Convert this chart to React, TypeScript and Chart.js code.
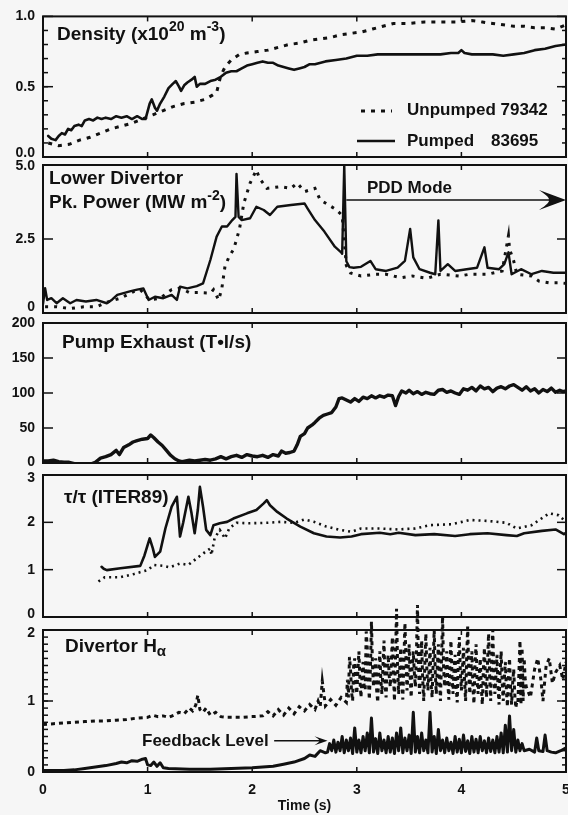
import React, { useEffect, useRef } from 'react';
import { Chart, registerables } from 'chart.js';

Chart.register(...registerables);

const W = 568;
const H = 815;
const FONT = "'Liberation Sans', Arial, Helvetica, sans-serif";
const INK = '#111111';
const BG = '#f6f6f6';

// ---------------- data (time s, value) ----------------
const xTicks = [0, 1, 2, 3, 4, 5];
const xTickLabels = ['0', '1', '2', '3', '4', '5'];

const densityTicks = [0, 0.5, 1.0];
const densityTickLabels = ['0.0', '0.5', '1.0'];
const densityPumped: [number, number][] = [
  [0.05, 0.15], [0.08, 0.13], [0.12, 0.12], [0.15, 0.15], [0.18, 0.17], [0.21, 0.16], [0.24, 0.2], [0.27, 0.19],
  [0.3, 0.22], [0.34, 0.23], [0.37, 0.22], [0.4, 0.26], [0.44, 0.27], [0.48, 0.26], [0.52, 0.28], [0.56, 0.27],
  [0.6, 0.28], [0.65, 0.27], [0.7, 0.29], [0.75, 0.28], [0.8, 0.29], [0.85, 0.27], [0.9, 0.29], [0.95, 0.27],
  [0.98, 0.27], [1.02, 0.38], [1.04, 0.41], [1.07, 0.35], [1.09, 0.33], [1.12, 0.38], [1.16, 0.43], [1.2, 0.49],
  [1.24, 0.52], [1.27, 0.54], [1.3, 0.5], [1.32, 0.47], [1.35, 0.51], [1.38, 0.53], [1.42, 0.55], [1.45, 0.57],
  [1.47, 0.5], [1.5, 0.52], [1.55, 0.52], [1.6, 0.54], [1.65, 0.55], [1.7, 0.57], [1.75, 0.6], [1.8, 0.61],
  [1.85, 0.61], [1.9, 0.63], [1.95, 0.65], [2.0, 0.66], [2.05, 0.67], [2.1, 0.68], [2.15, 0.67], [2.2, 0.67],
  [2.25, 0.65], [2.3, 0.64], [2.35, 0.63], [2.4, 0.62], [2.45, 0.63], [2.5, 0.64], [2.55, 0.66], [2.6, 0.66],
  [2.7, 0.68], [2.8, 0.69], [2.9, 0.7], [3.0, 0.72], [3.1, 0.72], [3.2, 0.73], [3.3, 0.73], [3.4, 0.73],
  [3.5, 0.73], [3.6, 0.73], [3.7, 0.73], [3.8, 0.73], [3.9, 0.74], [3.97, 0.74], [4.0, 0.76], [4.03, 0.74],
  [4.1, 0.73], [4.2, 0.73], [4.3, 0.73], [4.4, 0.72], [4.5, 0.73], [4.6, 0.74], [4.7, 0.76], [4.8, 0.77],
  [4.9, 0.79], [5.0, 0.8],
];
const densityUnpumped: [number, number][] = [
  [0.05, 0.1], [0.15, 0.08], [0.25, 0.09], [0.35, 0.12], [0.45, 0.14], [0.55, 0.17], [0.65, 0.2], [0.75, 0.22],
  [0.85, 0.24], [0.95, 0.27], [1.05, 0.3], [1.15, 0.33], [1.25, 0.36], [1.35, 0.38], [1.45, 0.39], [1.55, 0.41],
  [1.62, 0.44], [1.66, 0.46], [1.7, 0.58], [1.74, 0.64], [1.8, 0.69], [1.88, 0.73], [1.95, 0.74], [2.05, 0.75],
  [2.15, 0.76], [2.25, 0.78], [2.35, 0.8], [2.45, 0.81], [2.55, 0.83], [2.65, 0.84], [2.75, 0.85], [2.85, 0.87],
  [2.95, 0.88], [3.05, 0.89], [3.15, 0.91], [3.25, 0.93], [3.35, 0.95], [3.5, 0.95], [3.65, 0.96], [3.8, 0.96],
  [3.95, 0.96], [4.1, 0.97], [4.2, 0.96], [4.3, 0.95], [4.4, 0.94], [4.5, 0.93], [4.6, 0.93], [4.7, 0.92],
  [4.8, 0.92], [4.9, 0.91], [5.0, 0.94],
];

const powerTicks = [0, 2.5, 5.0];
const powerTickLabels = ['0', '2.5', '5.0'];
const powerPumped: [number, number][] = [
  [0, 0.3], [0.02, 0.84], [0.04, 0.44], [0.08, 0.5], [0.13, 0.33], [0.19, 0.5], [0.26, 0.33], [0.32, 0.44],
  [0.41, 0.39], [0.51, 0.44], [0.61, 0.33], [0.66, 0.45], [0.71, 0.61], [0.77, 0.67], [0.83, 0.73], [0.9, 0.79],
  [0.96, 0.83], [1.01, 0.44], [1.07, 0.55], [1.15, 0.5], [1.23, 0.61], [1.28, 0.44], [1.31, 0.89], [1.38, 0.83],
  [1.47, 0.91], [1.53, 1.0], [1.6, 1.79], [1.66, 2.58], [1.71, 2.92], [1.76, 2.92], [1.81, 3.14], [1.84, 3.25],
  [1.85, 4.7], [1.87, 3.25], [1.9, 3.14], [1.98, 3.2], [2.04, 3.59], [2.11, 3.48], [2.17, 3.31], [2.24, 3.59],
  [2.37, 3.65], [2.5, 3.7], [2.53, 3.53], [2.6, 3.14], [2.69, 2.75], [2.79, 2.24], [2.85, 2.05], [2.86, 2.0],
  [2.88, 5.0], [2.9, 1.75], [2.93, 1.55], [2.97, 1.53], [3.04, 1.56], [3.13, 1.76], [3.18, 1.48], [3.28, 1.42],
  [3.39, 1.53], [3.46, 1.76], [3.51, 2.84], [3.54, 1.88], [3.6, 1.48], [3.7, 1.36], [3.75, 1.31], [3.78, 3.13],
  [3.8, 1.42], [3.87, 1.65], [3.94, 1.42], [4.05, 1.48], [4.15, 1.53], [4.22, 2.22], [4.25, 1.53], [4.36, 1.48],
  [4.41, 1.65], [4.45, 2.05], [4.48, 1.31], [4.57, 1.48], [4.67, 1.31], [4.77, 1.42], [4.88, 1.36], [5.0, 1.36],
];
const powerUnpumped: [number, number][] = [
  [0.02, 0.21], [0.13, 0.21], [0.26, 0.15], [0.39, 0.21], [0.51, 0.21], [0.6, 0.35], [0.74, 0.5], [0.87, 0.73],
  [0.93, 0.79], [1.02, 0.44], [1.12, 0.5], [1.23, 0.79], [1.31, 0.84], [1.4, 0.69], [1.5, 0.69], [1.6, 0.67],
  [1.63, 0.79], [1.68, 0.44], [1.71, 0.84], [1.74, 1.58], [1.78, 1.91], [1.82, 2.14], [1.85, 2.47], [1.88, 2.87],
  [1.92, 3.71], [1.98, 4.39], [2.04, 4.83], [2.07, 4.55], [2.14, 4.21], [2.27, 4.27], [2.37, 4.21], [2.43, 4.39],
  [2.5, 4.1], [2.6, 4.21], [2.65, 3.82], [2.73, 3.65], [2.8, 3.5], [2.86, 3.3], [2.9, 1.6], [2.94, 1.35],
  [3.04, 1.25], [3.18, 1.31], [3.28, 1.31], [3.42, 1.19], [3.53, 1.25], [3.67, 1.17], [3.8, 1.31], [3.98, 1.25],
  [4.08, 1.31], [4.25, 1.31], [4.39, 1.42], [4.45, 2.61], [4.46, 2.16], [4.5, 1.76], [4.53, 1.31], [4.67, 1.25],
  [4.74, 1.08], [4.84, 1.02], [4.95, 1.02], [5.0, 1.0],
];

const pumpTicks = [0, 50, 100, 150, 200];
const pumpTickLabels = ['0', '50', '100', '150', '200'];
const pumpExhaust: [number, number][] = [
  [0, 3], [0.05, 3], [0.1, 4], [0.15, 2], [0.2, 1], [0.25, 1], [0.3, -1], [0.35, -2], [0.4, -1], [0.45, -2],
  [0.5, 1], [0.55, 7], [0.6, 9], [0.65, 12], [0.7, 18], [0.73, 12], [0.77, 22], [0.82, 26], [0.86, 30], [0.9, 32],
  [0.95, 34], [1.0, 35], [1.03, 40], [1.06, 36], [1.1, 30], [1.14, 25], [1.18, 18], [1.22, 11], [1.26, 6], [1.3, 3],
  [1.33, 2], [1.4, 4], [1.45, 3], [1.5, 4], [1.55, 5], [1.6, 4], [1.65, 6], [1.7, 9], [1.75, 6], [1.8, 9],
  [1.85, 11], [1.9, 8], [1.95, 12], [2.0, 10], [2.05, 9], [2.1, 11], [2.15, 8], [2.2, 12], [2.25, 10], [2.28, 17],
  [2.32, 14], [2.36, 15], [2.4, 17], [2.43, 26], [2.46, 38], [2.5, 42], [2.53, 50], [2.57, 54], [2.6, 58], [2.64, 64],
  [2.68, 68], [2.72, 70], [2.76, 72], [2.8, 80], [2.83, 92], [2.86, 93], [2.9, 90], [2.94, 87], [2.98, 92], [3.02, 88],
  [3.06, 94], [3.1, 92], [3.14, 96], [3.18, 93], [3.22, 96], [3.26, 94], [3.3, 97], [3.34, 96], [3.37, 82], [3.4, 95],
  [3.43, 103], [3.47, 100], [3.5, 104], [3.54, 99], [3.58, 102], [3.62, 98], [3.66, 101], [3.7, 99], [3.74, 98],
  [3.78, 104], [3.82, 105], [3.86, 101], [3.9, 103], [3.94, 100], [3.98, 98], [4.02, 106], [4.06, 104], [4.1, 108],
  [4.14, 103], [4.18, 110], [4.22, 106], [4.26, 108], [4.3, 102], [4.34, 107], [4.38, 109], [4.42, 106], [4.46, 110],
  [4.5, 112], [4.54, 108], [4.58, 104], [4.62, 109], [4.66, 103], [4.7, 106], [4.74, 100], [4.78, 105], [4.82, 102],
  [4.86, 107], [4.9, 101], [4.94, 104], [4.97, 102], [5.0, 103],
];

const tauTicks = [0, 1, 2, 3];
const tauTickLabels = ['0', '1', '2', '3'];
const tauPumped: [number, number][] = [
  [0.56, 1.06], [0.58, 1.02], [0.61, 0.99], [0.74, 1.03], [0.93, 1.08], [0.97, 1.3], [1.0, 1.52], [1.02, 1.66],
  [1.05, 1.45], [1.07, 1.27], [1.12, 1.38], [1.17, 1.87], [1.23, 2.33], [1.28, 2.54], [1.31, 1.7], [1.34, 1.99],
  [1.39, 2.54], [1.42, 2.19], [1.45, 1.77], [1.48, 2.26], [1.5, 2.75], [1.53, 2.33], [1.56, 1.84], [1.6, 1.73],
  [1.63, 1.94], [1.69, 1.98], [1.76, 2.01], [1.82, 2.08], [1.95, 2.19], [2.04, 2.26], [2.11, 2.4], [2.14, 2.47],
  [2.17, 2.36], [2.24, 2.22], [2.33, 2.08], [2.46, 1.91], [2.59, 1.77], [2.71, 1.7], [2.84, 1.68], [2.95, 1.7],
  [3.04, 1.75], [3.22, 1.78], [3.32, 1.75], [3.4, 1.78], [3.56, 1.73], [3.74, 1.75], [3.94, 1.71], [4.08, 1.75],
  [4.25, 1.77], [4.43, 1.73], [4.53, 1.71], [4.6, 1.77], [4.77, 1.82], [4.9, 1.85], [4.98, 1.75], [5.0, 1.78],
];
const tauUnpumped: [number, number][] = [
  [0.53, 0.75], [0.59, 0.84], [0.74, 0.84], [0.87, 0.91], [1.0, 0.99], [1.06, 1.1], [1.15, 1.08], [1.21, 1.05],
  [1.31, 1.13], [1.39, 1.1], [1.47, 1.24], [1.53, 1.34], [1.6, 1.45], [1.61, 1.31], [1.64, 1.66], [1.69, 1.84],
  [1.74, 1.66], [1.78, 1.87], [1.85, 1.99], [1.98, 1.98], [2.14, 1.99], [2.27, 2.01], [2.4, 1.99], [2.5, 2.06],
  [2.59, 2.01], [2.71, 1.91], [2.84, 1.84], [2.95, 1.8], [3.04, 1.87], [3.22, 1.87], [3.39, 1.85], [3.56, 1.87],
  [3.7, 1.94], [3.91, 1.96], [4.08, 2.05], [4.25, 2.03], [4.43, 1.99], [4.53, 1.87], [4.67, 1.94], [4.84, 2.19],
  [4.93, 2.15], [4.98, 2.05],
];

const haTicks = [0, 1, 2];
const haTickLabels = ['0', '1', '2'];
const haUnpumped: [number, number][] = [
  [0, 0.67], [0.1, 0.68], [0.2, 0.69], [0.3, 0.7], [0.4, 0.71], [0.5, 0.72], [0.6, 0.72], [0.7, 0.73],
  [0.8, 0.74], [0.9, 0.76], [1.0, 0.77], [1.05, 0.8], [1.1, 0.78], [1.15, 0.79], [1.2, 0.77], [1.25, 0.8],
  [1.3, 0.84], [1.35, 0.82], [1.4, 0.9], [1.43, 0.86], [1.46, 0.94], [1.48, 1.08], [1.5, 0.88], [1.53, 0.84],
  [1.56, 0.9], [1.6, 0.8], [1.65, 0.84], [1.7, 0.78], [1.75, 0.77], [1.8, 0.77], [1.9, 0.77], [2.0, 0.78],
  [2.1, 0.79], [2.15, 0.85], [2.2, 0.79], [2.25, 0.88], [2.3, 0.8], [2.35, 0.9], [2.4, 0.82], [2.45, 0.92],
  [2.5, 0.86], [2.55, 0.95], [2.6, 0.88], [2.63, 1.0], [2.65, 0.92], [2.67, 1.28], [2.7, 0.93], [2.75, 1.02],
  [2.8, 0.94], [2.85, 1.05], [2.9, 0.98],
  [2.91, 1.3], [2.92, 1.05], [2.93, 1.62], [2.94, 1.45], [2.95, 1.12], [2.96, 1.0], [2.97, 1.5], [2.98, 1.6],
  [2.99, 1.25], [3.0, 1.1], [3.01, 1.4], [3.02, 1.7], [3.03, 1.3], [3.04, 1.05], [3.05, 1.35], [3.06, 1.55],
  [3.07, 1.2], [3.08, 1.15], [3.09, 1.98], [3.1, 1.75], [3.11, 1.3], [3.12, 1.02], [3.13, 1.45], [3.14, 2.12],
  [3.15, 1.5], [3.16, 1.2], [3.17, 1.35], [3.18, 1.6], [3.19, 1.15], [3.2, 0.98], [3.21, 1.4], [3.22, 1.7],
  [3.23, 1.3], [3.24, 1.1], [3.25, 1.5], [3.26, 1.85], [3.27, 1.25], [3.28, 1.05], [3.29, 1.45], [3.3, 1.65],
  [3.31, 1.35], [3.32, 1.2], [3.33, 1.55], [3.34, 1.9], [3.35, 1.4], [3.36, 1.0], [3.37, 1.6], [3.38, 2.3],
  [3.39, 1.5], [3.4, 1.1], [3.41, 1.45], [3.42, 1.75], [3.43, 1.3], [3.44, 1.02], [3.45, 1.55], [3.46, 2.1],
  [3.47, 1.6], [3.48, 1.15], [3.49, 1.4], [3.5, 1.8], [3.51, 1.35], [3.52, 1.05], [3.53, 1.5], [3.54, 1.7],
  [3.55, 1.4], [3.56, 1.2], [3.57, 1.65], [3.58, 2.35], [3.59, 1.5], [3.6, 1.1], [3.61, 1.45], [3.62, 1.85],
  [3.63, 1.3], [3.64, 1.0], [3.65, 1.5], [3.66, 1.95], [3.67, 1.45], [3.68, 1.15], [3.69, 1.4], [3.7, 1.75],
  [3.71, 1.25], [3.72, 1.05], [3.73, 1.55], [3.74, 2.0], [3.75, 1.4], [3.76, 1.1], [3.77, 1.5], [3.78, 1.8],
  [3.79, 1.3], [3.8, 1.0], [3.81, 1.6], [3.82, 2.2], [3.83, 1.45], [3.84, 1.2], [3.85, 1.4], [3.86, 1.7],
  [3.87, 1.25], [3.88, 1.02], [3.89, 1.5], [3.9, 1.85], [3.91, 1.35], [3.92, 1.1], [3.93, 1.45], [3.94, 1.65],
  [3.95, 1.2], [3.96, 0.98], [3.97, 1.55], [3.98, 1.9], [3.99, 1.4], [4.0, 1.15], [4.01, 1.45], [4.02, 1.75],
  [4.03, 1.3], [4.04, 1.0], [4.05, 1.6], [4.06, 2.05], [4.07, 1.45], [4.08, 1.1], [4.09, 1.4], [4.1, 1.7],
  [4.11, 1.2], [4.12, 0.96], [4.13, 1.5], [4.14, 1.8], [4.15, 1.3], [4.16, 1.1], [4.17, 1.35], [4.18, 1.6],
  [4.19, 1.2], [4.2, 0.95], [4.21, 1.45], [4.22, 1.75], [4.23, 1.3], [4.24, 1.05], [4.25, 1.55], [4.26, 1.95],
  [4.27, 1.35], [4.28, 1.0], [4.29, 1.6], [4.3, 2.0], [4.31, 1.4], [4.32, 1.1], [4.33, 1.35], [4.34, 1.65],
  [4.35, 1.2], [4.36, 0.95], [4.37, 1.4], [4.38, 1.7], [4.39, 1.25], [4.4, 1.0], [4.41, 1.3], [4.42, 1.55],
  [4.43, 1.15], [4.44, 0.92], [4.45, 1.35], [4.46, 1.6], [4.47, 1.2], [4.48, 0.95], [4.49, 1.25], [4.5, 1.45],
  [4.51, 1.1], [4.52, 0.9], [4.53, 1.0], [4.54, 0.98], [4.55, 1.4], [4.56, 1.85], [4.57, 0.95], [4.58, 1.75],
  [4.59, 1.0], [4.6, 1.6], [4.61, 1.3], [4.62, 1.2],
  [4.66, 1.05], [4.7, 1.45], [4.73, 1.6], [4.76, 1.3], [4.78, 1.0], [4.81, 1.5], [4.84, 1.6], [4.87, 1.25],
  [4.9, 1.4], [4.94, 1.5], [4.97, 1.3], [5.0, 1.55],
];
const haPumped: [number, number][] = [
  [0, 0.02], [0.2, 0.02], [0.3, 0.03], [0.4, 0.05], [0.5, 0.07], [0.6, 0.09], [0.7, 0.12], [0.75, 0.14],
  [0.8, 0.13], [0.85, 0.16], [0.9, 0.15], [0.95, 0.18], [0.98, 0.19], [1.0, 0.1], [1.03, 0.09], [1.06, 0.14],
  [1.09, 0.08], [1.12, 0.13], [1.15, 0.06], [1.2, 0.05], [1.4, 0.04], [1.6, 0.04], [1.8, 0.05], [2.0, 0.06],
  [2.2, 0.08], [2.3, 0.11], [2.4, 0.14], [2.5, 0.19], [2.55, 0.24], [2.6, 0.22], [2.65, 0.3], [2.7, 0.27],
  [2.72, 0.28], [2.74, 0.4], [2.76, 0.3], [2.78, 0.45], [2.8, 0.28], [2.82, 0.42], [2.84, 0.3], [2.86, 0.5],
  [2.88, 0.27], [2.9, 0.45], [2.92, 0.3], [2.94, 0.48], [2.96, 0.26], [2.98, 0.62], [3.0, 0.28], [3.02, 0.45],
  [3.04, 0.27], [3.06, 0.5], [3.08, 0.3], [3.1, 0.55], [3.12, 0.27], [3.14, 0.76], [3.16, 0.28], [3.18, 0.47],
  [3.2, 0.26], [3.22, 0.55], [3.24, 0.3], [3.26, 0.45], [3.28, 0.27], [3.3, 0.5], [3.32, 0.28], [3.34, 0.48],
  [3.36, 0.26], [3.38, 0.55], [3.4, 0.3], [3.42, 0.62], [3.44, 0.27], [3.46, 0.48], [3.48, 0.3], [3.5, 0.52],
  [3.52, 0.26], [3.54, 0.84], [3.56, 0.28], [3.58, 0.5], [3.6, 0.27], [3.62, 0.55], [3.64, 0.3], [3.66, 0.45],
  [3.68, 0.27], [3.7, 0.84], [3.72, 0.28], [3.74, 0.5], [3.76, 0.26], [3.78, 0.6], [3.8, 0.3], [3.82, 0.45],
  [3.84, 0.27], [3.86, 0.48], [3.88, 0.3], [3.9, 0.42], [3.92, 0.26], [3.94, 0.5], [3.96, 0.28], [3.98, 0.46],
  [4.0, 0.27], [4.02, 0.52], [4.04, 0.29], [4.06, 0.44], [4.08, 0.26], [4.1, 0.5], [4.12, 0.28], [4.14, 0.46],
  [4.16, 0.27], [4.18, 0.5], [4.2, 0.3], [4.22, 0.44], [4.24, 0.27], [4.26, 0.48], [4.28, 0.29], [4.3, 0.45],
  [4.32, 0.27], [4.34, 0.5], [4.36, 0.28], [4.38, 0.55], [4.4, 0.27], [4.42, 0.66], [4.44, 0.28], [4.46, 0.79],
  [4.48, 0.3], [4.5, 0.6], [4.52, 0.28], [4.54, 0.45], [4.56, 0.3], [4.58, 0.4], [4.6, 0.3], [4.65, 0.32],
  [4.7, 0.28], [4.72, 0.48], [4.74, 0.3], [4.78, 0.29], [4.8, 0.52], [4.82, 0.3], [4.86, 0.28], [4.9, 0.27],
  [4.95, 0.3], [5.0, 0.34],
];

// ---------------- text ----------------
type Part = { t: string; s?: 'sup' | 'sub' };
const densityTitle: Part[] = [{ t: 'Density (x10' }, { t: '20', s: 'sup' }, { t: ' m' }, { t: '-3', s: 'sup' }, { t: ')' }];
const powerTitle1: Part[] = [{ t: 'Lower Divertor' }];
const powerTitle2: Part[] = [{ t: 'Pk. Power (MW m' }, { t: '-2', s: 'sup' }, { t: ')' }];
const pumpTitle: Part[] = [{ t: 'Pump Exhaust (T•l/s)' }];
const tauTitle: Part[] = [{ t: 'τ/τ (ITER89)' }];
const haTitle: Part[] = [{ t: 'Divertor H' }, { t: 'α', s: 'sub' }];
const legendUnpumped = ['Unpumped 79342'];
const legendPumped = ['Pumped', '83695'];

// ---------------- helpers ----------------
const pts = (a: [number, number][]) => a.map(([x, y]) => ({ x, y }));

function richText(ctx: CanvasRenderingContext2D, x: number, y: number, parts: Part[], size: number) {
  let cx = x;
  ctx.textBaseline = 'middle';
  ctx.textAlign = 'left';
  ctx.fillStyle = INK;
  for (const p of parts) {
    const fs = p.s === 'sub' ? Math.round(size * 0.8) : p.s ? Math.round(size * 0.72) : size;
    ctx.font = `bold ${fs}px ${FONT}`;
    const dy = p.s === 'sup' ? -size * 0.36 : p.s === 'sub' ? size * 0.28 : 0;
    ctx.fillText(p.t, cx, y + dy);
    cx += ctx.measureText(p.t).width;
  }
}

function seg(ctx: CanvasRenderingContext2D, x1: number, y1: number, x2: number, y2: number) {
  ctx.beginPath();
  ctx.moveTo(x1, y1);
  ctx.lineTo(x2, y2);
  ctx.stroke();
}

function arrowHead(ctx: CanvasRenderingContext2D, tipX: number, y: number, len: number, half: number) {
  ctx.beginPath();
  ctx.moveTo(tipX, y);
  ctx.lineTo(tipX - len, y - half);
  ctx.quadraticCurveTo(tipX - len * 0.55, y - half * 0.2, tipX - len * 0.65, y);
  ctx.quadraticCurveTo(tipX - len * 0.55, y + half * 0.2, tipX - len, y + half);
  ctx.closePath();
  ctx.fill();
}

type Spec = {
  id: string;
  top: number;
  bottom: number;
  yMin: number;
  yMax: number;
  yTicks: number[];
  yTickLabels: string[];
  labelShift: number[]; // px nudge of each tick label (negative = up)
  yMinor?: number;
  showX: boolean;
  datasets: any[];
  annotate: (ctx: CanvasRenderingContext2D, chart: any) => void;
};

const solid = (data: [number, number][], width = 2.6) => ({
  data: pts(data),
  borderColor: INK,
  borderWidth: width,
  pointRadius: 0,
  fill: false,
  tension: 0,
  borderJoinStyle: 'round',
  borderCapStyle: 'round',
});
const dotted = (data: [number, number][], width = 3, dash = [3, 6]) => ({
  data: pts(data),
  borderColor: INK,
  borderWidth: width,
  borderDash: dash,
  pointRadius: 0,
  fill: false,
  tension: 0,
  borderCapStyle: 'butt',
});

const specs: Spec[] = [
  {
    id: 'density', top: 14, bottom: 157, yMin: 0, yMax: 1, yTicks: densityTicks, yTickLabels: densityTickLabels,
    labelShift: [-4, 0, 0], yMinor: 0.1, showX: false,
    datasets: [dotted(densityUnpumped, 3, [4, 6]), solid(densityPumped, 2.6)],
    annotate: (ctx, chart) => {
      const a = chart.chartArea;
      richText(ctx, a.left + 14, a.top + 18, densityTitle, 19);
      ctx.save();
      ctx.strokeStyle = INK;
      ctx.lineWidth = 3;
      ctx.setLineDash([4, 6]);
      seg(ctx, 361, 111, 392, 111);
      ctx.setLineDash([]);
      ctx.lineWidth = 2.6;
      seg(ctx, 357, 141, 395, 141);
      ctx.restore();
      richText(ctx, 407, 110, [{ t: legendUnpumped[0] }], 17);
      richText(ctx, 407, 141, [{ t: legendPumped[0] }], 17);
      richText(ctx, 491, 141, [{ t: legendPumped[1] }], 17);
    },
  },
  {
    id: 'power', top: 165, bottom: 313, yMin: 0, yMax: 5, yTicks: powerTicks, yTickLabels: powerTickLabels,
    labelShift: [-6, 0, 1], showX: false,
    datasets: [dotted(powerUnpumped, 3, [3, 6]), solid(powerPumped, 2.4)],
    annotate: (ctx, chart) => {
      const a = chart.chartArea;
      const { x, y } = chart.scales;
      richText(ctx, a.left + 6, a.top + 14, powerTitle1, 19);
      richText(ctx, a.left + 6, a.top + 38, powerTitle2, 19);
      richText(ctx, 367, 188, [{ t: 'PDD Mode' }], 17);
      const ay = y.getPixelForValue(3.82);
      const x1 = x.getPixelForValue(2.9);
      const x2 = x.getPixelForValue(5);
      ctx.save();
      ctx.strokeStyle = INK;
      ctx.fillStyle = INK;
      ctx.lineWidth = 1.6;
      seg(ctx, x1, ay, x2 - 15, ay);
      arrowHead(ctx, x2, ay, 27, 10);
      ctx.restore();
    },
  },
  {
    id: 'pump', top: 323, bottom: 463, yMin: 0, yMax: 200, yTicks: pumpTicks, yTickLabels: pumpTickLabels,
    labelShift: [-1, 0, 0, 0, 0], showX: false,
    datasets: [solid(pumpExhaust, 3.4)],
    annotate: (ctx, chart) => {
      const a = chart.chartArea;
      richText(ctx, a.left + 19, a.top + 20, pumpTitle, 19);
    },
  },
  {
    id: 'tau', top: 475, bottom: 617, yMin: 0, yMax: 3, yTicks: tauTicks, yTickLabels: tauTickLabels,
    labelShift: [-3, 0, 0, 3], showX: false,
    datasets: [dotted(tauUnpumped, 2.6, [2, 4]), solid(tauPumped, 2.6)],
    annotate: (ctx, chart) => {
      const a = chart.chartArea;
      richText(ctx, a.left + 21, a.top + 23, tauTitle, 19);
    },
  },
  {
    id: 'ha', top: 630, bottom: 772, yMin: 0, yMax: 2, yTicks: haTicks, yTickLabels: haTickLabels,
    labelShift: [0, 0, 3], yMinor: 0.1, showX: true,
    datasets: [
      { ...dotted(haUnpumped, 3, [4, 4]), clip: { left: 0, top: 40, right: 0, bottom: 0 } },
      solid(haPumped, 3),
    ],
    annotate: (ctx, chart) => {
      const a = chart.chartArea;
      const { x, y } = chart.scales;
      richText(ctx, a.left + 22, a.top + 17, haTitle, 19);
      richText(ctx, 142, 741, [{ t: 'Feedback Level' }], 17);
      const ay = y.getPixelForValue(0.44);
      const x1 = x.getPixelForValue(2.21);
      const x2 = x.getPixelForValue(2.72);
      ctx.save();
      ctx.strokeStyle = INK;
      ctx.fillStyle = INK;
      ctx.lineWidth = 1.5;
      seg(ctx, x1, ay, x2 - 6, ay);
      arrowHead(ctx, x2, ay, 13, 4.5);
      ctx.restore();
    },
  },
];

function decorPlugin(spec: Spec) {
  return {
    id: 'decor_' + spec.id,
    afterDraw(chart: any) {
      const { ctx, chartArea: a, scales } = chart;
      const xs = scales.x;
      const ys = scales.y;
      ctx.save();
      ctx.strokeStyle = INK;
      ctx.lineWidth = 2;
      ctx.strokeRect(a.left, a.top, a.right - a.left, a.bottom - a.top);
      ctx.lineWidth = 1.5;
      for (const v of spec.yTicks) {
        const py = ys.getPixelForValue(v);
        seg(ctx, a.left, py, a.left + 10, py);
        seg(ctx, a.right, py, a.right - 9, py);
      }
      if (spec.yMinor) {
        const n = Math.round((spec.yMax - spec.yMin) / spec.yMinor);
        for (let i = 1; i < n; i++) {
          const py = ys.getPixelForValue(spec.yMin + i * spec.yMinor);
          seg(ctx, a.left, py, a.left + 5, py);
          seg(ctx, a.right, py, a.right - 4, py);
        }
      }
      for (const v of xTicks) {
        const px = xs.getPixelForValue(v);
        seg(ctx, px, a.bottom, px, a.bottom - 5);
        seg(ctx, px, a.top, px, a.top + 5);
      }
      ctx.restore();
      ctx.save();
      spec.annotate(ctx, chart);
      ctx.restore();
    },
  };
}

function makeConfig(spec: Spec): any {
  const TICK_SIZE = 14;
  const tickFont = { family: FONT, size: TICK_SIZE, weight: 'bold' as const };
  return {
    type: 'line',
    data: { datasets: spec.datasets },
    plugins: [decorPlugin(spec)],
    options: {
      responsive: false,
      maintainAspectRatio: false,
      devicePixelRatio: 1,
      animation: false,
      events: [],
      layout: { padding: { left: 0, right: 2, top: spec.top, bottom: spec.showX ? 0 : H - spec.bottom } },
      plugins: { legend: { display: false }, tooltip: { enabled: false }, title: { display: false } },
      scales: {
        x: {
          type: 'linear',
          min: 0,
          max: 5,
          display: spec.showX,
          grid: { display: false, drawTicks: false },
          border: { display: false },
          afterBuildTicks: (s: any) => {
            s.ticks = xTicks.map((v) => ({ value: v }));
          },
          ticks: {
            padding: 10,
            font: tickFont,
            color: INK,
            autoSkip: false,
            maxRotation: 0,
            callback: (_v: any, i: number) => xTickLabels[i],
          },
          title: {
            display: true,
            text: 'Time (s)',
            color: INK,
            font: { family: FONT, size: 14, weight: 'bold' },
            padding: { top: 0, bottom: 0 },
          },
          afterFit: (s: any) => {
            if (spec.showX) s.height = 43;
            s.paddingLeft = 0;
            s.paddingRight = 0;
          },
        },
        y: {
          type: 'linear',
          min: spec.yMin,
          max: spec.yMax,
          grid: { display: false, drawTicks: false },
          border: { display: false },
          afterBuildTicks: (s: any) => {
            s.ticks = spec.yTicks.map((v) => ({ value: v }));
          },
          ticks: {
            padding: 8,
            color: INK,
            autoSkip: false,
            font: (c: any) => {
              const sh = spec.labelShift[c.index] || 0;
              return sh ? { ...tickFont, lineHeight: (2 * Math.abs(sh)) / TICK_SIZE } : { ...tickFont, lineHeight: 1.2 };
            },
            callback: (_v: any, i: number) => {
              const lab = spec.yTickLabels[i];
              const sh = spec.labelShift[i] || 0;
              if (sh < 0) return [lab, ''];
              if (sh > 0) return ['', lab];
              return lab;
            },
          },
          afterFit: (s: any) => {
            s.width = 43;
          },
        },
      },
    },
  };
}

function Panel({ spec }: { spec: Spec }) {
  const ref = useRef<HTMLCanvasElement>(null);
  useEffect(() => {
    const chart = new Chart(ref.current as HTMLCanvasElement, makeConfig(spec));
    return () => chart.destroy();
  }, [spec]);
  return (
    <canvas
      ref={ref}
      width={W}
      height={H}
      style={{ position: 'absolute', left: 0, top: 0, width: W, height: H }}
    />
  );
}

export default function App() {
  return (
    <div style={{ position: 'absolute', left: 0, top: 0, width: W, height: H, background: BG, overflow: 'hidden' }}>
      {specs.map((s) => (
        <Panel key={s.id} spec={s} />
      ))}
    </div>
  );
}
